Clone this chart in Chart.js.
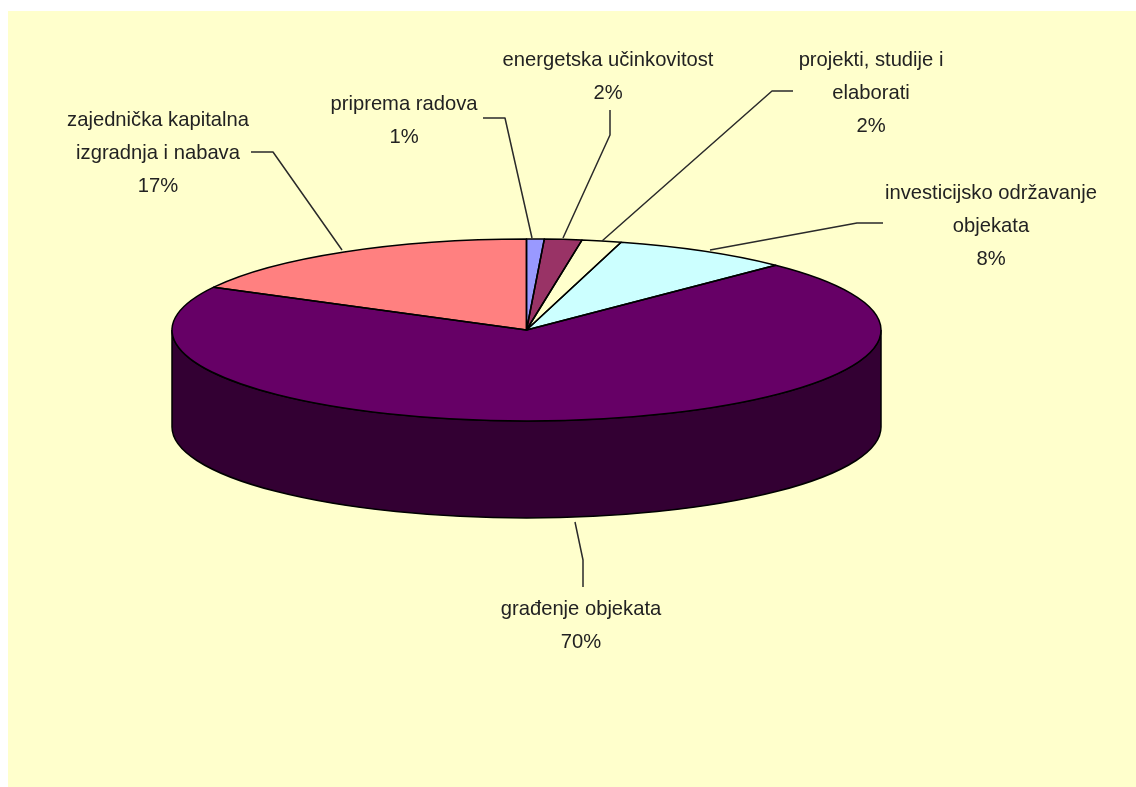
<!DOCTYPE html>
<html>
<head>
<meta charset="utf-8">
<style>
html,body{margin:0;padding:0;background:#fff;overflow:hidden}
#wrap{position:absolute;left:0;top:0;width:1136px;height:787px}
</style>
<script src="https://cdn.jsdelivr.net/npm/chart.js@4"></script>
</head>
<body>
<div id="wrap"><canvas id="c" width="1136" height="787"></canvas></div>
<script>
const categories = ["priprema radova","energetska učinkovitost","projekti, studije i elaborati","investicijsko održavanje objekata","građenje objekata","zajednička kapitalna izgradnja i nabava"];
const values = [0.8,1.7,1.8,8.1,70.4,17.2];
const sliceColors = ["#9999FF","#993366","#FFFFCC","#CCFFFF","#660066","#FF8080"];
const labelLines = [
  ["priprema radova"],
  ["energetska učinkovitost"],
  ["projekti, studije i","elaborati"],
  ["investicijsko održavanje","objekata"],
  ["građenje objekata"],
  ["zajednička kapitalna","izgradnja i nabava"]
];
const labelAnchors = [[404,104],[608,60],[871,60],[991,193],[581,609],[158,120]];
const leaders = [
  [[483,118],[505,118],[532,238]],
  [[610,110],[610,135],[563,238]],
  [[793,91],[772,91],[602,241]],
  [[883,223],[857,223],[710,250]],
  [[575,522],[583,560],[583,587]],
  [[251,152],[273,152],[342,250]]
];
const lineGap = 33;
const tiltCy = 330, tiltRy = 91, depth = 97;
const panel = {x:8,y:11};

function darken(hex){
  const n = parseInt(hex.slice(1),16);
  const f = v => Math.round(v/2).toString(16).padStart(2,"0");
  return "#"+f(n>>16&255)+f(n>>8&255)+f(n&255);
}

const pie3d = {
  id:"pie3d",
  beforeDraw(chart){
    const c = chart.ctx;
    c.save();
    c.fillStyle = "#FFFFCC";
    c.fillRect(panel.x,panel.y,chart.width-panel.x,chart.height-panel.y);
    c.restore();
  },
  beforeDatasetDraw(chart){
    const c = chart.ctx, arcs = chart.getDatasetMeta(0).data;
    arcs.forEach((a,i)=>{
      const s = Math.max(a.startAngle,0), e = Math.min(a.endAngle,Math.PI);
      if (e <= s) return;
      c.beginPath();
      c.ellipse(a.x,tiltCy,a.outerRadius,tiltRy,0,s,e);
      c.ellipse(a.x,tiltCy+depth,a.outerRadius,tiltRy,0,e,s,true);
      c.closePath();
      c.fillStyle = darken(sliceColors[i]);
      c.fill();
      c.strokeStyle = "#000";
      c.lineWidth = 1.5;
      c.stroke();
    });
    const y0 = arcs[0].y;
    c.save();
    c.translate(0,tiltCy);
    c.scale(1,tiltRy/arcs[0].outerRadius);
    c.translate(0,-y0);
  },
  afterDatasetDraw(chart){
    const c = chart.ctx, arcs = chart.getDatasetMeta(0).data;
    c.restore();
    arcs.forEach(a=>{
      c.beginPath();
      c.moveTo(a.x,tiltCy);
      c.ellipse(a.x,tiltCy,a.outerRadius,tiltRy,0,a.startAngle,a.endAngle);
      c.closePath();
      c.strokeStyle = "#000";
      c.lineWidth = 1.5;
      c.lineJoin = "round";
      c.stroke();
    });
    c.strokeStyle = "#2a2a2a";
    c.lineWidth = 1.5;
    leaders.forEach(l=>{
      c.beginPath();
      l.forEach((p,i)=> i ? c.lineTo(p[0],p[1]) : c.moveTo(p[0],p[1]));
      c.stroke();
    });
    c.fillStyle = "#222";
    c.font = "20.2px 'Liberation Sans', Arial, sans-serif";
    c.textAlign = "center";
    c.textBaseline = "middle";
    const total = values.reduce((p,v)=>p+v,0);
    labelLines.forEach((lines,i)=>{
      const [x,y] = labelAnchors[i];
      const all = lines.concat([Math.round(values[i]/total*100)+"%"]);
      all.forEach((t,k)=> c.fillText(t,x,y+k*lineGap));
    });
  }
};

new Chart(document.getElementById("c"),{
  type:"pie",
  data:{labels:categories,datasets:[{data:values,backgroundColor:sliceColors,borderWidth:0}]},
  options:{
    responsive:false,
    animation:false,
    layout:{padding:{left:172,right:255,top:0,bottom:0}},
    plugins:{legend:{display:false},tooltip:{enabled:false},title:{display:false}},
    events:[]
  },
  plugins:[pie3d]
});
</script>
</body>
</html>
